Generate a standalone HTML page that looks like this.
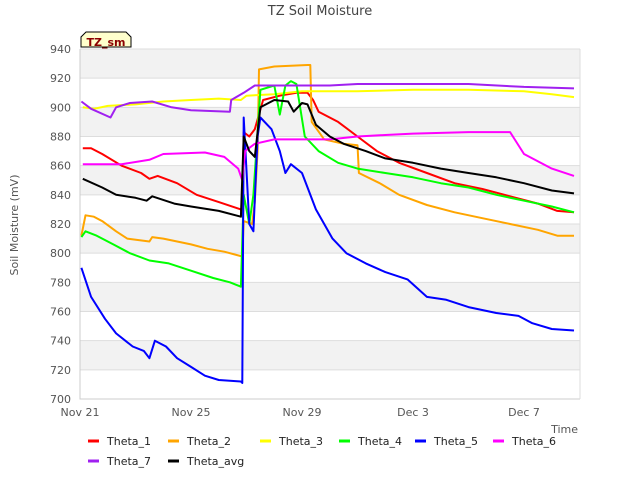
<!DOCTYPE html>
<html><head><meta charset="utf-8"><style>
body{margin:0;background:#fff;font-family:"Liberation Sans","DejaVu Sans",sans-serif;}
svg text{font-family:"DejaVu Sans","Liberation Sans",sans-serif;}
</style></head><body>
<svg id="chart" width="640" height="480" viewBox="0 0 640 480" xmlns="http://www.w3.org/2000/svg">
<rect width="640" height="480" fill="#fff"/>
<text x="320" y="15" text-anchor="middle" font-size="13" fill="#444">TZ Soil Moisture</text>
<g id="bands"></g>
<g id="grid"></g>
<g id="series"></g>
<g id="axes"></g>
<text transform="translate(18,225) rotate(-90)" text-anchor="middle" font-size="11" fill="#555">Soil Moisture (mV)</text>
<text x="578" y="433" text-anchor="end" font-size="11" fill="#555">Time</text>
<g>
<path d="M81,47 L81,37 L86,32 L126,32 L131,37 L131,47 Z" fill="#ffffcc" stroke="#000" stroke-width="1"/>
<text x="106" y="46" text-anchor="middle" font-size="11" font-weight="bold" fill="#8b0000">TZ_sm</text>
</g>
<g id="legend"></g>
</svg>
<script>
const yTicks=[700,720,740,760,780,800,820,840,860,880,900,920,940];
const xTickDays=[0,4,8,12,16];
const xTickLabels=["Nov 21","Nov 25","Nov 29","Dec 3","Dec 7"];
const seriesNames=["Theta_1","Theta_2","Theta_3","Theta_4","Theta_5","Theta_6","Theta_7","Theta_avg"];
const seriesColors=["#ff0000","#ffa500","#ffff00","#00ff00","#0000ff","#ff00ff","#a020f0","#000000"];
const theta1=[[0.1,872],[0.4,872],[0.8,868],[1.5,860],[2.2,855],[2.5,851],[2.8,853],[3.5,848],[4.2,840],[5,835],[5.8,830],[5.85,826],[5.9,883],[6.1,880],[6.3,885],[6.6,905],[7.2,908],[7.8,910],[8.2,910],[8.4,905],[8.6,897],[9.3,890],[10,880],[10.7,870],[11.5,862],[12.5,855],[13.5,848],[14.5,844],[15.5,839],[16.5,834],[17.2,829],[17.8,828]];
const theta2=[[0.05,812],[0.2,826],[0.5,825],[0.8,822],[1.3,815],[1.7,810],[2.5,808],[2.6,811],[3,810],[4,806],[4.6,803],[5.2,801],[5.8,798],[5.85,798],[5.9,822],[6.2,820],[6.3,835],[6.4,870],[6.45,926],[7,928],[8.2,929],[8.3,929],[8.35,890],[8.8,878],[9.5,875],[10,874],[10.05,855],[10.8,848],[11.5,840],[12.5,833],[13.5,828],[14.5,824],[15.5,820],[16.5,816],[17.2,812],[17.8,812]];
const theta3=[[0.1,900],[0.5,899],[1,901],[2,902],[3,904],[4,905],[5,906],[5.8,905],[6,908],[7,909],[8,911],[10,911],[12,912],[14,912],[16,911],[17,909],[17.8,907]];
const theta4=[[0.05,811],[0.2,815],[0.6,812],[1.2,806],[1.8,800],[2.5,795],[3.2,793],[4,788],[4.8,783],[5.4,780],[5.8,777],[5.9,840],[6.1,820],[6.25,840],[6.5,912],[7,915],[7.2,895],[7.4,915],[7.6,918],[7.8,916],[8.1,880],[8.6,870],[9.3,862],[10,858],[11,855],[12,852],[13,848],[14,845],[15,840],[16,836],[17,832],[17.8,828]];
const theta5=[[0.05,790],[0.4,770],[0.9,755],[1.3,745],[1.9,736],[2.3,733],[2.5,728],[2.7,740],[3.1,736],[3.5,728],[4,722],[4.5,716],[5,713],[5.8,712],[5.85,711],[5.9,893],[6.1,820],[6.25,815],[6.4,880],[6.5,893],[6.9,885],[7.2,870],[7.4,855],[7.6,861],[8,855],[8.5,830],[9.1,810],[9.6,800],[10.3,793],[11,787],[11.8,782],[12.5,770],[13.2,768],[14,763],[15,759],[15.8,757],[16.3,752],[17,748],[17.8,747]];
const theta6=[[0.1,861],[1.5,861],[2.5,864],[3,868],[4.5,869],[5.2,866],[5.7,858],[5.85,850],[5.95,870],[6.3,875],[7,878],[9,878],[10,880],[11,881],[12,882],[14,883],[15.5,883],[16,868],[17,858],[17.8,853]];
const theta7=[[0.05,904],[0.4,899],[1.1,893],[1.3,900],[1.8,903],[2.6,904],[3.3,900],[4,898],[5.4,897],[5.45,905],[5.9,910],[6.3,915],[9,915],[10,916],[14,916],[16,914],[17.8,913]];
const thetaAvg=[[0.1,851],[0.8,845],[1.3,840],[2,838],[2.4,836],[2.6,839],[3.4,834],[4,832],[5,829],[5.8,825],[5.9,880],[6.1,870],[6.3,866],[6.5,900],[7,905],[7.5,904],[7.7,897],[8,903],[8.2,902],[8.5,888],[9,880],[9.5,875],[10.3,870],[11,865],[12,862],[13,858],[14,855],[15,852],[16,848],[17,843],[17.8,841]];
const allSeries=[theta1,theta2,theta3,theta4,theta5,theta6,theta7,thetaAvg];

const X0=80,X1=580,Y0=49,Y1=399;
const xs=d=>X0+d*27.75;
const ys=v=>Y1-(v-700)*(Y1-Y0)/240;
const NS="http://www.w3.org/2000/svg";
function mk(tag,attrs,parent){const e=document.createElementNS(NS,tag);for(const k in attrs)e.setAttribute(k,attrs[k]);parent.appendChild(e);return e;}
const bands=document.getElementById('bands'),grid=document.getElementById('grid'),axes=document.getElementById('axes'),ser=document.getElementById('series'),leg=document.getElementById('legend');
for(let i=yTicks.length-1;i>0;i-=2){
 const r=mk('rect',{x:X0,y:ys(yTicks[i]),width:X1-X0,height:ys(yTicks[i-1])-ys(yTicks[i]),fill:'#f2f2f2'},bands);
 
 
}
yTicks.forEach(v=>{
 const l=mk('line',{x1:X0,x2:X1,y1:ys(v),y2:ys(v),stroke:'#ddd','stroke-width':1},grid);
 
 
 const t=mk('text',{x:X0-9,y:ys(v)+4,'text-anchor':'end','font-size':11,fill:'#555'},axes);
 t.textContent=v;
 
 
});
const ax=mk('path',{d:`M${X0},${Y0} L${X0},${Y1} L${X1},${Y1}`,fill:'none',stroke:'#ccc','stroke-width':1},axes);


const rb=mk('line',{x1:X1,x2:X1,y1:Y0,y2:Y1,stroke:'#ddd'},axes);


xTickDays.forEach((d,i)=>{
 const t=mk('text',{x:xs(d),y:Y1+17,'text-anchor':'middle','font-size':11,fill:'#555'},axes);
 t.textContent=xTickLabels[i];
 
 
});
allSeries.forEach((s,i)=>{
 const p=mk('polyline',{points:s.map(q=>xs(q[0]).toFixed(1)+','+ys(q[1]).toFixed(1)).join(' '),fill:'none',stroke:seriesColors[i],'stroke-width':2,'stroke-linejoin':'round'},ser);
 
 
});
const legPos=[[88,441],[168,441],[260,441],[339,441],[415,441],[493,441],[88,461],[168,461]];
seriesNames.forEach((n,i)=>{
 const g=mk('g',{},leg);
 
 
 const [lx,ly]=legPos[i];
 mk('line',{x1:lx,x2:lx+11,y1:ly,y2:ly,stroke:seriesColors[i],'stroke-width':3},g);
 const t=mk('text',{x:lx+19,y:ly+4,'font-size':11,fill:'#222'},g);
 t.textContent=n;
});
</script>
</body></html>
